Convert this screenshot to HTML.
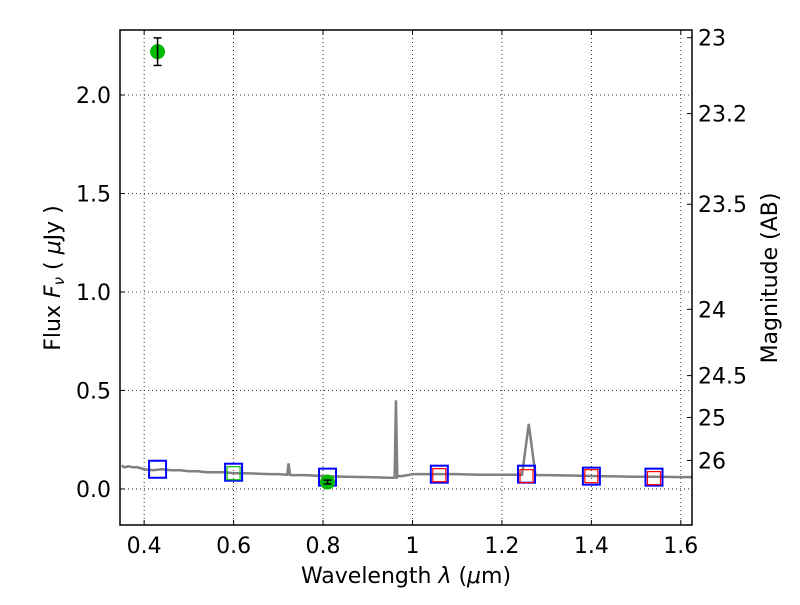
<!DOCTYPE html>
<html><head><meta charset="utf-8"><style>body{margin:0;background:#fff}svg text{font-family:"DejaVu Sans","Liberation Sans",sans-serif;fill:#000}</style></head>
<body>
<svg id="chart" width="800" height="600" xmlns="http://www.w3.org/2000/svg"></svg>
<script>
const xTicks=[0.4,0.6,0.8,1,1.2,1.4,1.6];
const xTickLabels=["0.4","0.6","0.8","1","1.2","1.4","1.6"];
const yTicks=[0,0.5,1,1.5,2];
const yTickLabels=["0.0","0.5","1.0","1.5","2.0"];
const magTicks=[23,23.2,23.5,24,24.5,25,26];
const magTickLabels=["23","23.2","23.5","24","24.5","25","26"];
const specWave=[0.35,0.355,0.365,0.375,0.385,0.40,0.42,0.44,0.46,0.48,0.50,0.52,0.54,0.56,0.58,0.60,0.62,0.65,0.68,0.70,0.72,0.723,0.726,0.73,0.76,0.80,0.85,0.90,0.95,0.960,0.963,0.966,0.969,0.975,0.99,1.0,1.05,1.10,1.15,1.20,1.245,1.26,1.275,1.30,1.35,1.40,1.45,1.50,1.55,1.60,1.625];
const specFlux=[0.12,0.11,0.115,0.11,0.11,0.10,0.095,0.10,0.095,0.095,0.09,0.09,0.085,0.085,0.085,0.08,0.08,0.078,0.075,0.075,0.072,0.13,0.072,0.07,0.07,0.065,0.062,0.06,0.057,0.057,0.45,0.06,0.065,0.065,0.07,0.075,0.075,0.075,0.072,0.072,0.072,0.33,0.07,0.07,0.068,0.066,0.064,0.062,0.062,0.06,0.06];
const blueWave=[0.43,0.6,0.81,1.06,1.255,1.40,1.54];
const blueFlux=[0.10,0.085,0.06,0.075,0.075,0.065,0.06];
const redWave=[1.06,1.255,1.40,1.54];
const redFlux=[0.07,0.065,0.065,0.055];
const greenSqWave=[0.6];
const greenSqFlux=[0.08];
const ptWave=[0.43,0.81];
const ptFlux=[2.22,0.035];
const ptErr=[0.07,0.01];

const L=120,R=692,T=30,B=525,xmin=0.346,xmax=1.625,ymin=-0.183,ymax=2.33;
const X=v=>L+(v-xmin)/(xmax-xmin)*(R-L);
const Y=v=>B-(v-ymin)/(ymax-ymin)*(B-T);
const svg=document.getElementById('chart');
const NS="http://www.w3.org/2000/svg";
function mk(tag,attrs,parent){const e=document.createElementNS(NS,tag);for(const k in attrs)e.setAttribute(k,attrs[k]);(parent||svg).appendChild(e);return e;}
xTicks.forEach((t,i)=>{
 const g=mk('line',{x1:X(t),x2:X(t),y1:T,y2:B,stroke:'#000','stroke-width':0.8,'stroke-dasharray':'1,3'});
 
 mk('line',{x1:X(t),x2:X(t),y1:B,y2:B-5,stroke:'#000'});mk('line',{x1:X(t),x2:X(t),y1:T,y2:T+5,stroke:'#000'});
 const tx=mk('text',{x:X(t),y:B+28,'font-size':22,'text-anchor':'middle'});tx.textContent=xTickLabels[i];
 
});
yTicks.forEach((t,i)=>{
 const g=mk('line',{x1:L,x2:R,y1:Y(t),y2:Y(t),stroke:'#000','stroke-width':0.8,'stroke-dasharray':'1,3'});
 
 mk('line',{x1:L,x2:L+5,y1:Y(t),y2:Y(t),stroke:'#000'});
 const tx=mk('text',{x:L-9,y:Y(t)+8,'font-size':22,'text-anchor':'end'});tx.textContent=yTickLabels[i];
 
});
magTicks.forEach((m,i)=>{
 const y=Y(Math.pow(10,(23.9-m)/2.5));
 mk('line',{x1:R,x2:R-5,y1:y,y2:y,stroke:'#000'});
 const tx=mk('text',{x:R+6,y:y+8,'font-size':22});tx.textContent=magTickLabels[i];
 
});
const sp=mk('polyline',{points:specWave.map((w,i)=>X(w)+','+Y(specFlux[i])).join(' '),fill:'none',stroke:'#808080','stroke-width':2.5});

blueWave.forEach((w,i)=>{const r=mk('rect',{x:X(w)-8.5,y:Y(blueFlux[i])-8.5,width:17,height:17,fill:'none',stroke:'#0000ff','stroke-width':2});
 });
redWave.forEach((w,i)=>{const r=mk('rect',{x:X(w)-6.5,y:Y(redFlux[i])-6.5,width:13,height:13,fill:'none',stroke:'#ff0000','stroke-width':1.2});
 });
greenSqWave.forEach((w,i)=>{const r=mk('rect',{x:X(w)-6.5,y:Y(greenSqFlux[i])-6.5,width:13,height:13,fill:'none',stroke:'#00c000','stroke-width':1.2});
 });
ptWave.forEach((w,i)=>{
 const x=X(w);
 const c=mk('circle',{cx:x,cy:Y(ptFlux[i]),r:7.5,fill:'#00bb00'});
 
 mk('line',{x1:x,x2:x,y1:Y(ptFlux[i]-ptErr[i]),y2:Y(ptFlux[i]+ptErr[i]),stroke:'#000','stroke-width':1.5});
 [ptFlux[i]-ptErr[i],ptFlux[i]+ptErr[i]].forEach(v=>mk('line',{x1:x-4,x2:x+4,y1:Y(v),y2:Y(v),stroke:'#000','stroke-width':1.5}));
});
const fr=mk('rect',{x:L,y:T,width:R-L,height:B-T,fill:'none',stroke:'#000','stroke-width':1.5});

</script>
<svg width="800" height="600" style="position:absolute;left:0;top:0" xmlns="http://www.w3.org/2000/svg">
<text x="406" y="583" font-size="22" text-anchor="middle">Wavelength  <tspan font-style="italic">λ</tspan> (<tspan font-style="italic">μ</tspan>m)</text>
<text transform="translate(60,278) rotate(-90)" font-size="22" text-anchor="middle">Flux  <tspan font-style="italic">F<tspan font-size="15" dy="4">ν</tspan></tspan><tspan dy="-4">  ( </tspan><tspan font-style="italic">μ</tspan>Jy )</text>
<text transform="translate(777,278) rotate(-90)" font-size="22" text-anchor="middle">Magnitude (AB)</text>
</svg>
</body></html>
